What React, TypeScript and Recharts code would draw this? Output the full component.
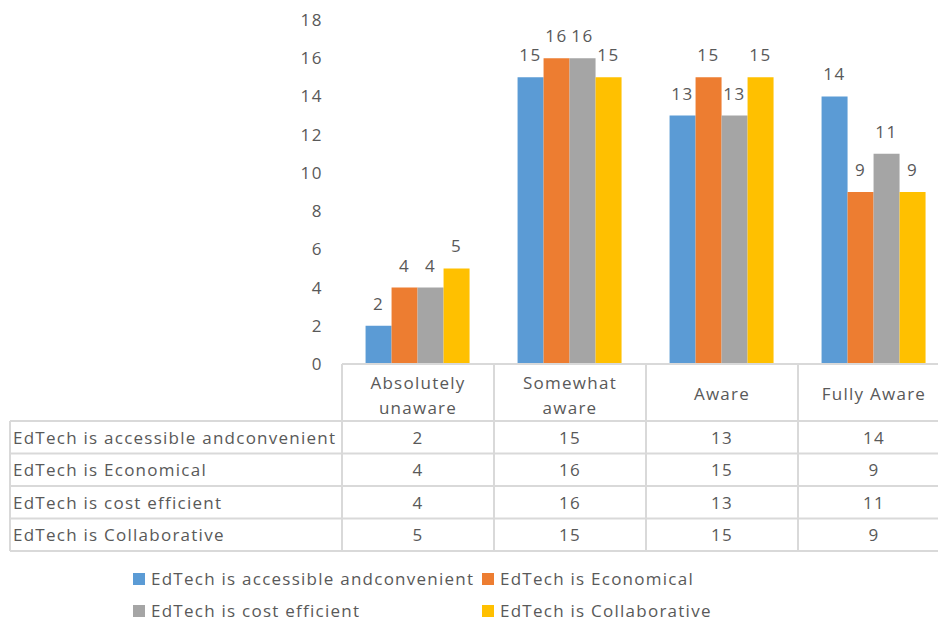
import React from 'react';
import { BarChart, Bar, XAxis, YAxis, LabelList } from 'recharts';

const categories = ['Absolutely unaware', 'Somewhat aware', 'Aware', 'Fully Aware'];
const headerLines = [['Absolutely', 'unaware'], ['Somewhat', 'aware'], ['Aware'], ['Fully Aware']];

const seriesNames = [
  'EdTech is accessible andconvenient',
  'EdTech is Economical',
  'EdTech is cost efficient',
  'EdTech is Collaborative',
];
const accessible = [2, 15, 13, 14];
const economical = [4, 16, 15, 9];
const costEfficient = [4, 16, 13, 11];
const collaborative = [5, 15, 15, 9];
const yTicks = [0, 2, 4, 6, 8, 10, 12, 14, 16, 18];

const COLORS = ['#5B9BD5', '#ED7D31', '#A5A5A5', '#FFC000'];
const keys = ['accessible', 'economical', 'costEfficient', 'collaborative'];
const seriesValues = [accessible, economical, costEfficient, collaborative];

const data = categories.map((name, i) => ({
  name,
  accessible: accessible[i],
  economical: economical[i],
  costEfficient: costEfficient[i],
  collaborative: collaborative[i],
}));

// layout
const CHART_W = 960;
const CHART_H = 624;
const PLOT_LEFT = 342;
const PLOT_RIGHT = 950;
const PLOT_TOP = 20;
const PLOT_BOTTOM = 364;
const BAND = (PLOT_RIGHT - PLOT_LEFT) / categories.length;
const HEADER_BOTTOM = 421;
const ROW_H = 32.5;
const TABLE_LEFT = 10;
const GRID = '#D9D9D9';
const TEXT = '#595959';
const FONT = '"Open Sans", "Noto Sans", sans-serif';
const FS = 17;
const LS = 1.25;

const rowLines = seriesNames.map((_, r) => HEADER_BOTTOM + ROW_H * (r + 1));

// the data table under the bars is drawn one column per x-axis tick
const TableTick = (props: any) => {
  const { x, index } = props;
  const left = x - BAND / 2;
  const right = x + BAND / 2;
  const lines = headerLines[index];
  const bottom = rowLines[rowLines.length - 1];
  return (
    <g fontFamily={FONT} fontSize={FS} fill={TEXT} letterSpacing={LS}>
      <line x1={left} x2={right} y1={PLOT_BOTTOM} y2={PLOT_BOTTOM} stroke={GRID} strokeWidth={2} />
      <line x1={left} x2={right} y1={HEADER_BOTTOM} y2={HEADER_BOTTOM} stroke={GRID} strokeWidth={2} />
      {rowLines.map((y, r) => (
        <line key={r} x1={left} x2={right} y1={y} y2={y} stroke={GRID} strokeWidth={2} />
      ))}
      <line x1={left} x2={left} y1={PLOT_BOTTOM} y2={bottom} stroke={GRID} strokeWidth={2} />
      <line x1={right} x2={right} y1={PLOT_BOTTOM} y2={bottom} stroke={GRID} strokeWidth={2} />
      {lines.map((t, k) => (
        <text
          key={k}
          x={x}
          y={lines.length === 1 ? 393 : 382 + k * 25}
          textAnchor="middle"
          dominantBaseline="central"
        >
          {t}
        </text>
      ))}
      {seriesValues.map((vals, r) => (
        <text key={r} x={x} y={HEADER_BOTTOM + ROW_H * (r + 0.5)} textAnchor="middle" dominantBaseline="central">
          {vals[index]}
        </text>
      ))}
      {index === 0 && (
        <g>
          <line x1={TABLE_LEFT} x2={left} y1={HEADER_BOTTOM} y2={HEADER_BOTTOM} stroke={GRID} strokeWidth={2} />
          {rowLines.map((y, r) => (
            <line key={r} x1={TABLE_LEFT} x2={left} y1={y} y2={y} stroke={GRID} strokeWidth={2} />
          ))}
          <line x1={TABLE_LEFT} x2={TABLE_LEFT} y1={HEADER_BOTTOM} y2={bottom} stroke={GRID} strokeWidth={2} />
          {seriesNames.map((n, r) => (
            <text key={r} x={TABLE_LEFT + 3} y={HEADER_BOTTOM + ROW_H * (r + 0.5)} dominantBaseline="central">
              {n}
            </text>
          ))}
        </g>
      )}
    </g>
  );
};

const legendPos = [
  { left: 133, top: 571 },
  { left: 482, top: 571 },
  { left: 133, top: 603 },
  { left: 482, top: 603 },
];

function ChartLegend() {
  return (
    <>
      {seriesNames.map((n, i) => (
        <div
          key={n}
          style={{
            position: 'absolute',
            left: legendPos[i].left,
            top: legendPos[i].top,
            display: 'flex',
            alignItems: 'center',
            fontFamily: FONT,
            fontSize: FS,
            letterSpacing: LS,
            color: TEXT,
            whiteSpace: 'nowrap',
            lineHeight: '16px',
          }}
        >
          <span style={{ width: 12, height: 12, background: COLORS[i], marginRight: 6, flexShrink: 0 }} />
          {n}
        </div>
      ))}
    </>
  );
}

export default function App() {
  return (
    <div style={{ position: 'absolute', left: 0, top: 0, width: 938, height: 624, overflow: 'hidden', background: '#fff' }}>
      <BarChart
        width={CHART_W}
        height={CHART_H}
        data={data}
        margin={{ top: PLOT_TOP, right: CHART_W - PLOT_RIGHT, left: 0, bottom: 0 }}
        barCategoryGap="15.5%"
        barGap={0}
      >
        <YAxis
          domain={[0, 18]}
          ticks={yTicks}
          width={PLOT_LEFT}
          axisLine={false}
          tickLine={false}
          tickMargin={13}
          tick={{ fill: TEXT, fontSize: FS, fontFamily: FONT, letterSpacing: 1.5 }}
        />
        <XAxis
          dataKey="name"
          height={CHART_H - PLOT_BOTTOM}
          axisLine={false}
          tickLine={false}
          interval={0}
          tick={<TableTick />}
        />
        {keys.map((k, i) => (
          <Bar key={k} dataKey={k} name={seriesNames[i]} fill={COLORS[i]} isAnimationActive={false}>
            <LabelList
              dataKey={k}
              position="top"
              offset={16}
              fill={TEXT}
              fontSize={FS}
              fontFamily={FONT}
              letterSpacing={1.5}
            />
          </Bar>
        ))}
      </BarChart>
      <ChartLegend />
    </div>
  );
}
